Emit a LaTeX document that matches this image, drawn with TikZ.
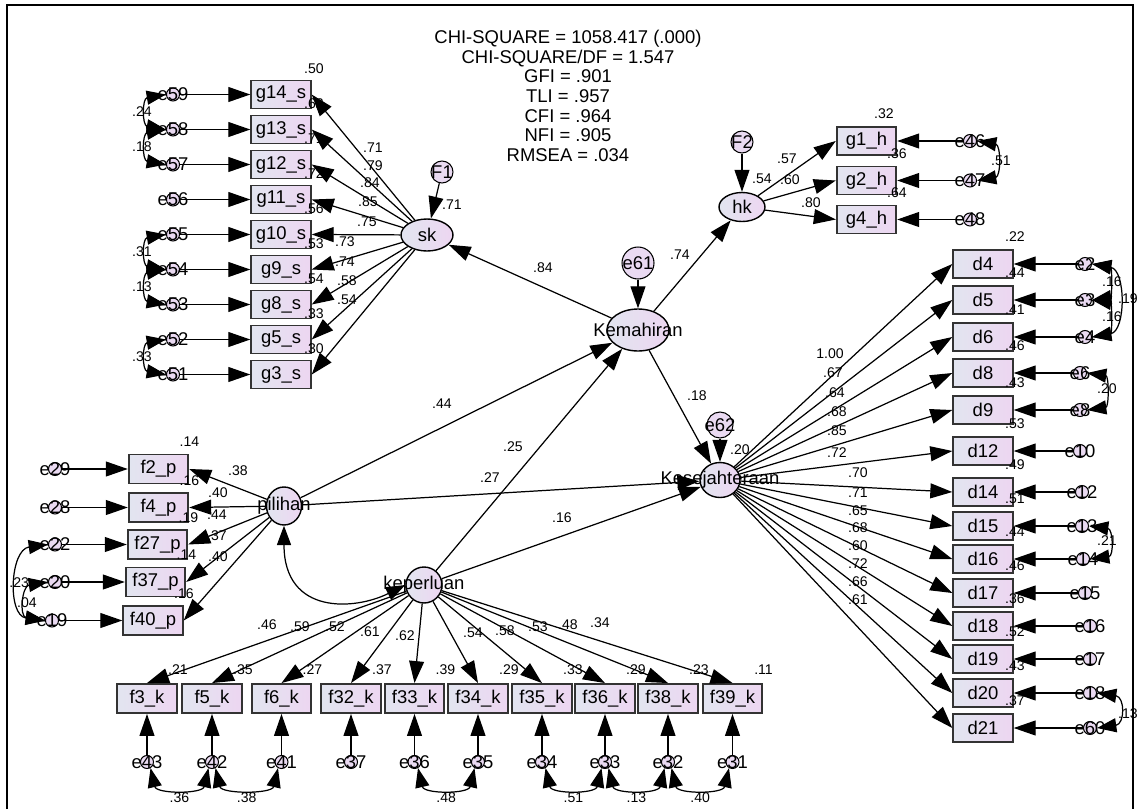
\documentclass[tikz,border=0pt]{standalone}
\usepackage{fontspec}
\setmainfont{Liberation Sans}
\usetikzlibrary{arrows.meta, shapes.geometric, calc}
\definecolor{boxleft}{RGB}{226,229,240}
\definecolor{boxright}{RGB}{237,214,241}
\definecolor{errfill}{RGB}{234,218,242}

\begin{document}
\begin{tikzpicture}[
    x=0.02cm, y=-0.02cm,
    font=\fontsize{10.5}{12}\selectfont,
    obs/.style={draw=black!80, line width=1.1pt, left color=boxleft, right color=boxright,
                minimum width=1.19cm, minimum height=0.56cm, inner sep=0pt},
    lat/.style={ellipse, draw, line width=0.8pt, left color=boxleft, right color=boxright,
                inner sep=0pt, label=center:#1},
    err/.style={circle, draw, line width=0.6pt, fill=errfill, minimum size=0.26cm,
                inner sep=0pt, label=center:#1},
    num/.style={font=\fontsize{8}{9}\selectfont, inner sep=0pt},
    arrow/.style={-{Triangle[length=12.5pt, width=8.5pt]}, line width=0.7pt},
    covarrow/.style={{Triangle[length=11pt, width=8pt]}-{Triangle[length=11pt, width=8pt]}, line width=0.7pt}
]
    \useasboundingbox (0,0) rectangle (1137,809);
    \draw[line width=1.1pt] (7,809) -- (7,5) -- (1133,5) -- (1133,809);

    % Fit indices
    \node[align=center, font=\fontsize{10.5}{11.2}\selectfont] (fit) at (568,96)
        {CHI-SQUARE = 1058.417 (.000)\\CHI-SQUARE/DF = 1.547\\GFI = .901\\TLI = .957\\CFI = .964\\NFI = .905\\RMSEA = .034};

    % Latent variables
    \node[lat=Kemahiran, minimum width=1.24cm, minimum height=0.84cm] (kem) at (638,330) {};
    \node[lat=Kesejahteraan, minimum width=0.8cm, minimum height=0.7cm] (kes) at (720,480) {};
    \node[lat=sk, minimum width=1.04cm, minimum height=0.64cm] (sk) at (427,235) {};
    \node[lat=hk, minimum width=0.92cm, minimum height=0.58cm] (hk) at (742,207) {};
    \node[lat=pilihan, minimum width=0.7cm, minimum height=0.76cm] (pil) at (284,506) {};
    \node[lat=keperluan, minimum width=0.72cm, minimum height=0.72cm] (kep) at (424,585) {};
    \node[err=e61, minimum size=0.64cm] (e61) at (638,263) {};
    \node[err=e62, minimum size=0.52cm] (e62) at (720,425) {};
    \node[err=F1, minimum size=0.44cm] (F1) at (442,172) {};
    \node[err=F2, minimum size=0.44cm] (F2) at (742,142) {};

    % Structural paths
    \draw[arrow] (e61) -- (kem);
    \draw[arrow] (e62) -- (kes);
    \draw[arrow] (F1) -- (sk);
    \draw[arrow] (F2) -- (hk);
    \draw[arrow] (kem) -- (sk);
    \draw[arrow] (kem) -- (hk);
    \draw[arrow] (kem) -- (kes);
    \draw[arrow] (pil) -- (kem);
    \draw[arrow] (kep) -- (kem);
    \draw[arrow] (pil) -- (kes);
    \draw[arrow] (kep) -- (kes);
    \draw[covarrow] (pil.south) .. controls +(0,90) and +(-50,25) .. (kep.west);
    \foreach \val/\x/\y in {.84/543/268, .74/680/255, .18/697/396, .20/740/450, .44/442/404,
                            .25/513/447, .27/490/478, .16/562/518, .71/452/205, .54/762/179}
        \node[num] at (\x,\y) {\val};

    % sk indicators
    \foreach \n/\y/\rsq/\err in {14/94.5/.50/59, 13/129.5/.62/58, 12/164.5/.71/57, 11/199.5/.72/56,
                                 10/234.5/.56/55, 9/269.5/.53/54, 8/304.5/.54/53, 5/339.5/.33/52, 3/374.5/.30/51} {
        \node[num] at (314,\y-26) {\rsq};
        \node[obs] (g\n) at (281,\y) {g\n\_s};
        \node[err=e\err] (e\err) at (173,\y) {};
        \draw[arrow] (e\err) -- (g\n);
        \draw[arrow] (sk) -- (g\n.east);
    }
    \foreach \val/\x/\y in {.71/373/148, .79/373/166, .84/370/183, .85/368/202, .75/367/222,
                            .73/345/242, .74/345/262, .58/347/281, .54/347/300}
        \node[num] at (\x,\y) {\val};

    % hk indicators
    \foreach \n/\y/\rsq/\rx/\err in {1/141/.32/884/46, 2/180.5/.36/897/47, 4/219.5/.64/897/48} {
        \node[num] at (\rx,\y-27) {\rsq};
        \node[obs] (h\n) at (866.5,\y) {g\n\_h};
        \node[err=e\err] (e\err) at (970,\y) {};
        \draw[arrow] (e\err) -- (h\n);
        \draw[arrow] (hk) -- (h\n.west);
    }
    \foreach \val/\x/\y in {.57/787/159, .60/790/180, .80/811/203}
        \node[num] at (\x,\y) {\val};

    % Kesejahteraan indicators
    \foreach \n/\y/\rsq/\err/\ex in {4/264/.22/2/1085, 5/300/.44/3/1085, 6/337/.41/4/1085, 8/373/.46/6/1080,
                                     9/410/.43/8/1080, 12/451/.53/10/1080, 14/492/.49/12/1082, 15/526/.51/13/1082,
                                     16/559/.44/14/1083, 17/593/.46/15/1085, 18/626/.36/16/1090, 19/659/.52/17/1090,
                                     20/693/.43/18/1090, 21/728/.37/60/1090} {
        \node[num] at (1015,\y-27) {\rsq};
        \node[obs] (d\n) at (983,\y) {d\n};
        \node[err=e\err] (e\err) at (\ex,\y) {};
        \draw[arrow] (e\err) -- (d\n);
        \draw[arrow] (kes) -- (d\n.west);
    }
    \foreach \val/\x/\y in {1.00/830/354, .67/833/373, .64/835/393, .68/837/412, .85/837/431, .72/837/453,
                            .70/858/473, .71/858/493, .65/858/511, .68/858/528, .60/858/546, .72/858/564,
                            .66/858/582, .61/858/600}
        \node[num] at (\x,\y) {\val};

    % pilihan indicators
    \foreach \n/\x/\y/\rsq/\err/\ex in {2/158.5/469/.14/29/55, 4/158.5/507.5/.16/28/55, 27/157.5/544.5/.19/22/55,
                                        37/155.5/582/.14/20/55, 40/153/620.5/.16/19/52} {
        \node[num] at (\x+31,\y-27) {\rsq};
        \node[obs, minimum height=0.58cm] (p\n) at (\x,\y) {f\n\_p};
        \node[err=e\err] (e\err) at (\ex,\y) {};
        \draw[arrow] (e\err) -- (p\n);
        \draw[arrow] (pil) -- (p\n.east);
    }
    \foreach \val/\x/\y in {.38/238/471, .40/218/493, .44/217/515, .37/217/536, .40/218/557}
        \node[num] at (\x,\y) {\val};

    % keperluan indicators
    \foreach \n/\x/\rsq/\err in {3/147/.21/43, 5/212/.35/42, 6/281.5/.27/41, 32/351/.37/37, 33/414.5/.39/36,
                                 34/478/.29/35, 35/542/.33/34, 36/605/.29/33, 38/668/.23/32, 39/732.5/.11/31} {
        \node[num] at (\x+31,670) {\rsq};
        \node[obs, minimum height=0.58cm] (k\n) at (\x,698.5) {f\n\_k};
        \node[err=e\err] (e\err) at (\x,762) {};
        \draw[arrow] (e\err) -- (k\n);
        \draw[arrow] (kep) -- (k\n.north);
    }
    \foreach \val/\x/\y in {.46/267/625, .59/300/627, .52/335/627, .61/370/632, .62/405/636,
                            .54/473/633, .58/505/631, .53/538/627, .48/568/625, .34/600/623}
        \node[num] at (\x,\y) {\val};

    % Covariances - left
    \foreach \a/\b/\val/\y in {59/58/.24/112, 58/57/.18/147, 55/54/.31/252, 54/53/.13/287, 52/51/.33/357} {
        \node[num] at (142,\y) {\val};
        \draw[covarrow] (e\a.west) .. controls +(-24,4) and +(-24,-4) .. (e\b.west);
    }
    \draw[covarrow] (e22.west) .. controls +(-38,5) and +(-38,-5) .. (e19.west);
    \draw[covarrow] (e20.west) .. controls +(-26,4) and +(-26,-4) .. (e19.west);
    \node[num, anchor=west] at (9,583) {.23};
    \node[num] at (27,603) {.04};

    % Covariances - right
    \draw[covarrow] (e46.east) .. controls +(24,4) and +(24,-4) .. (e47.east);
    \node[num] at (1001,161) {.51};
    \draw[covarrow] (e2.east) .. controls +(20,3) and +(20,-3) .. (e3.east);
    \draw[covarrow] (e3.east) .. controls +(20,3) and +(20,-3) .. (e4.east);
    \draw[covarrow] (e2.east) .. controls +(34,6) and +(34,-6) .. (e4.east);
    \draw[covarrow] (e6.east) .. controls +(22,3) and +(22,-3) .. (e8.east);
    \draw[covarrow] (e13.east) .. controls +(24,3) and +(24,-3) .. (e14.east);
    \draw[covarrow] (e18.east) .. controls +(28,4) and +(28,-4) .. (e60.east);
    \foreach \val/\x/\y in {.16/1112/282, .19/1128/299, .16/1112/317, .20/1107/389, .21/1107/541, .13/1128/714}
        \node[num] at (\x,\y) {\val};

    % Covariances - bottom
    \foreach \a/\b/\val in {43/42/.36, 42/41/.38, 36/35/.48, 34/33/.51, 33/32/.13, 32/31/.40} {
        \draw[covarrow] (e\a.-60) .. controls +(6,26) and +(-6,26) .. (e\b.-120);
        \node[num] at ($(e\a)!0.5!(e\b)+(0,36)$) {\val};
    }
\end{tikzpicture}
\end{document}
